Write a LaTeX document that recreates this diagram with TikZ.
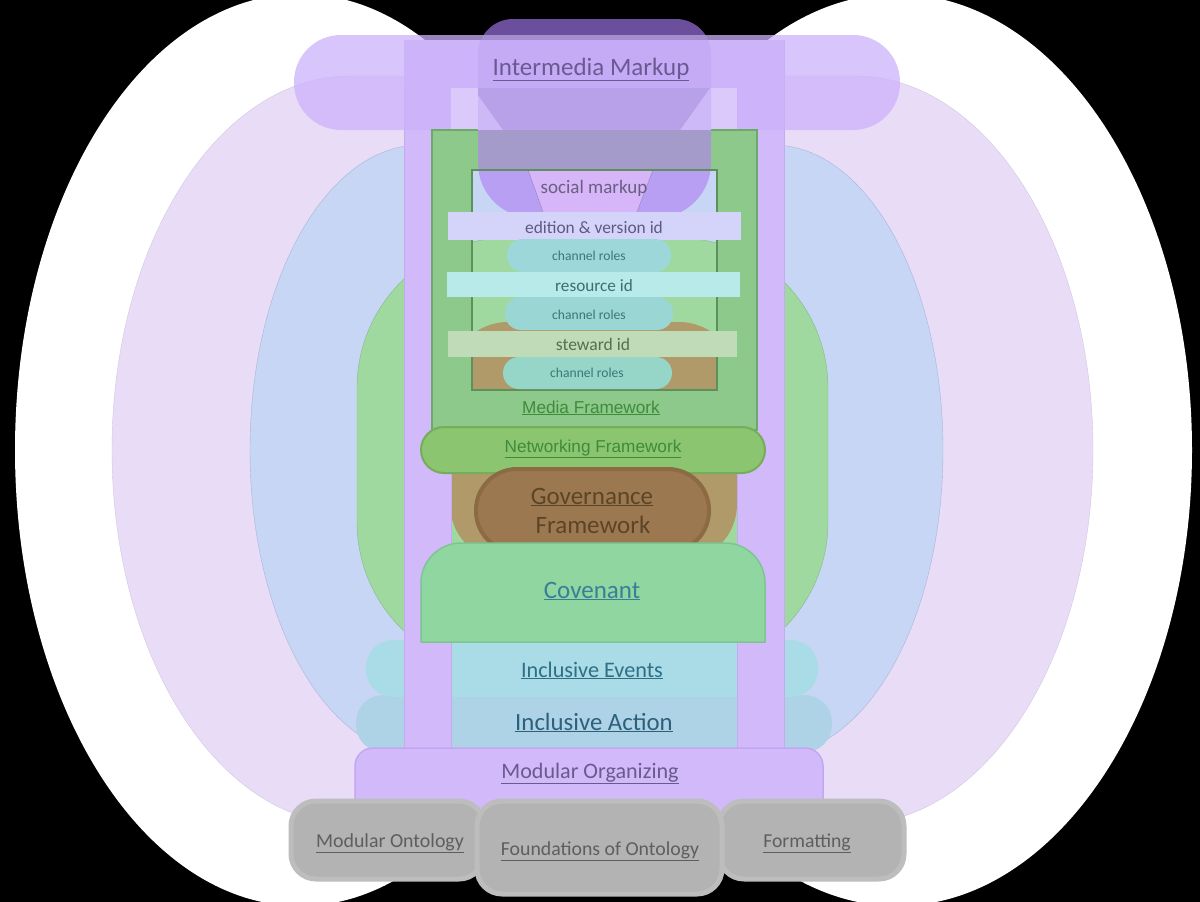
\documentclass[tikz,border=0pt]{standalone}
\usepackage{fontspec}
\setmainfont{Carlito}
\newfontfamily\arialfont{Liberation Sans}
\newcommand{\fsz}[1]{\fontsize{#1}{#1}\selectfont}

\definecolor{lavfill}{HTML}{E9DCF7}
\definecolor{lavline}{HTML}{D3C7E2}
\definecolor{bluefill}{HTML}{C8D6F6}
\definecolor{blueline}{HTML}{A8B6D6}
\definecolor{grnfill}{HTML}{9FD9A0}
\definecolor{grnline}{HTML}{84B888}
\definecolor{tanfill}{HTML}{B09A69}
\definecolor{evtfill}{HTML}{A9DCE6}
\definecolor{actfill}{HTML}{AED3E6}
\definecolor{purpfill}{HTML}{D2B9FA}
\definecolor{purpline}{HTML}{C4AAF0}
\definecolor{pillfill}{HTML}{CCB2FB}
\definecolor{purplight}{HTML}{DCC9FB}
\definecolor{mediafill}{HTML}{8CC98A}
\definecolor{medialine}{HTML}{6EA96B}
\definecolor{socdark}{HTML}{6B4F9D}
\definecolor{socpill}{HTML}{B89CF0}
\definecolor{soclight}{HTML}{CDB8F8}
\definecolor{socfunnel}{HTML}{B8A1E8}
\definecolor{socgreen}{HTML}{A49BCB}
\definecolor{socside}{HTML}{B99FF3}
\definecolor{soccentre}{HTML}{D6B5F9}
\definecolor{editfill}{HTML}{D4D4FA}
\definecolor{resfill}{HTML}{B7EAE8}
\definecolor{stewfill}{HTML}{BFDBB8}
\definecolor{chanA}{HTML}{9ED7D9}
\definecolor{chanB}{HTML}{9AD6D3}
\definecolor{chanC}{HTML}{95D6C9}
\definecolor{netfill}{HTML}{8BC56F}
\definecolor{netline}{HTML}{74AD5C}
\definecolor{govfill}{HTML}{9B7850}
\definecolor{govline}{HTML}{8C6A44}
\definecolor{covfill}{HTML}{8FD6A1}
\definecolor{covline}{HTML}{7DC593}
\definecolor{orgfill}{HTML}{D2B9FA}
\definecolor{orgline}{HTML}{C3A7F1}
\definecolor{greyfill}{HTML}{B3B3B3}
\definecolor{greyline}{HTML}{BDBDBD}

\definecolor{intermtxt}{HTML}{6B5A92}
\definecolor{socialtxt}{HTML}{686080}
\definecolor{edittxt}{HTML}{5C5A80}
\definecolor{chantxt}{HTML}{3F7576}
\definecolor{restxt}{HTML}{3D6E70}
\definecolor{stewtxt}{HTML}{55704E}
\definecolor{mediatxt}{HTML}{3F8B3C}
\definecolor{govtxt}{HTML}{5C4527}
\definecolor{covtxt}{HTML}{3A7E98}
\definecolor{evtxt}{HTML}{2F6F86}
\definecolor{acttxt}{HTML}{2E607B}
\definecolor{orgtxt}{HTML}{6B5A8E}
\definecolor{greytxt}{HTML}{5E5E5E}

\begin{document}
\begin{tikzpicture}[x=1pt,y=-1pt,
  lbl/.style={anchor=base,inner sep=0pt},
  chanpill/.style={rounded corners=16},
  greybox/.style={fill=greyfill,draw=greyline,line width=5,rounded corners=25}]

% background and outer rings
\fill[black] (0,0) rectangle (1200,902);
\useasboundingbox (0,0) rectangle (1200,902);
\fill[white] (300,450) ellipse [x radius=285,y radius=456];
\fill[white] (897,450) ellipse [x radius=295,y radius=456];
\path[fill=lavfill,draw=lavline] (350,76) -- (855,76) arc[start angle=-90,end angle=90,x radius=238,y radius=374]
  -- (350,824) arc[start angle=90,end angle=270,x radius=238,y radius=374] -- cycle;
\path[fill=bluefill,draw=blueline] (420,145) -- (773,145) arc[start angle=-90,end angle=90,x radius=170,y radius=305]
  -- (420,755) arc[start angle=90,end angle=270,x radius=170,y radius=305] -- cycle;
\path[fill=grnfill,draw=grnline,rounded corners=150] (357,238) rectangle (828,672);
\path[fill=tanfill,rounded corners=58] (450,322) rectangle (737,562);

% inclusive layers
\path[fill=actfill,rounded corners=27] (356,695) rectangle (832,752);
\path[fill=evtfill,rounded corners=27] (366,640) rectangle (818,697);

% purple frame and top pill
\path[fill=purpfill,draw=purpline] (404,40) rectangle (451,748);
\path[fill=purpfill,draw=purpline] (737,40) rectangle (784,748);
\path[fill=purpfill] (404,40) rectangle (784,88);
\path[fill=pillfill,fill opacity=.75,rounded corners=47] (294,35) rectangle (900,130);
\path[fill=purplight] (451,88) rectangle (737,130);

% media framework with its window
\path[fill=mediafill,draw=medialine,line width=1.2,even odd rule] (432,130) rectangle (757,430) (472,170) rectangle (717,390);

% social markup overlay
\begin{scope}
  \clip (478,54) arc[start angle=180,end angle=270,radius=35] -- (676,19) arc[start angle=270,end angle=360,radius=35]
    -- (711,163) arc[start angle=0,end angle=90,radius=55] -- (533,218) arc[start angle=90,end angle=180,radius=55] -- cycle;
  \fill[socdark] (470,0) rectangle (720,35);
  \fill[socpill,opacity=.35] (470,35) rectangle (720,88);
  \fill[soclight] (470,88) rectangle (720,130);
  \fill[socfunnel] (473,88) -- (710,88) -- (680,130) -- (503,130) -- cycle;
  \fill[socgreen] (470,130) rectangle (720,170);
  \fill[socside] (470,170) rectangle (720,232);
  \fill[soccentre] (528,170) -- (653,170) -- (637,212) -- (543,212) -- cycle;
  \draw[socfunnel!80!black,line width=.4] (528,170) -- (543,212) (653,170) -- (637,212);
\end{scope}
\draw[medialine!85!black,line width=1.2] (472,170) rectangle (717,390);

% identifiers and channel roles
\path[fill=editfill] (448,212) rectangle (741,240);
\path[chanpill,fill=chanA] (507,239) rectangle (671,272);
\path[fill=resfill] (447,272) rectangle (740,297);
\path[chanpill,fill=chanB] (505,297) rectangle (673,330);
\path[fill=stewfill] (448,331) rectangle (737,357);
\path[chanpill,fill=chanC] (503,357) rectangle (672,389);

% networking, governance, covenant
\path[fill=netfill,draw=netline,line width=2,rounded corners=23] (421,427) rectangle (765,473);
\path[fill=govfill,draw=govline,line width=4,rounded corners=41] (476,469) rectangle (709,552);
\path[fill=covfill,draw=covline,line width=1.5] (421,642) -- (421,583) arc[start angle=180,end angle=270,radius=40]
  -- (725,543) arc[start angle=270,end angle=360,radius=40] -- (765,642) -- cycle;

% modular organizing and ontology base
\path[fill=orgfill,draw=orgline,line width=1.5] (355,812) -- (355,766) arc[start angle=180,end angle=270,radius=18]
  -- (805,748) arc[start angle=270,end angle=360,radius=18] -- (823,812) -- cycle;
\path[greybox] (291,801) rectangle (484,879);
\path[greybox] (719,801) rectangle (904,879);
\path[greybox] (477,801) rectangle (722,894);

% labels
\node[lbl,font=\fsz{25},text=intermtxt] (interm) at (591,75) {\underline{Intermedia Markup}};
\node[lbl,font=\fsz{19},text=socialtxt] (social) at (594,193) {social markup};
\node[lbl,font=\fsz{17.4},text=edittxt] (edition) at (594,233) {edition \& version id};
\node[lbl,font=\fsz{13.6},text=chantxt] (chanone) at (589,260) {channel roles};
\node[lbl,font=\fsz{17.2},text=restxt] (resource) at (594,291) {resource id};
\node[lbl,font=\fsz{13.6},text=chantxt] (chantwo) at (589,319) {channel roles};
\node[lbl,font=\fsz{17.6},text=stewtxt] (steward) at (593,350) {steward id};
\node[lbl,font=\fsz{13.6},text=chantxt] (chanthree) at (587,377) {channel roles};
\node[lbl,font=\arialfont\fsz{17.2},text=mediatxt] (media) at (591,413) {\underline{Media Framework}};
\node[lbl,font=\arialfont\fsz{17.2},text=mediatxt] (networking) at (593,452) {\underline{Networking Framework}};
\node[lbl,font=\fsz{25},text=govtxt] (govone) at (592,504) {\underline{Governance}};
\node[lbl,font=\fsz{25},text=govtxt] (govtwo) at (593,533) {Framework};
\node[lbl,font=\fsz{25},text=covtxt] (covenant) at (592,598) {\underline{Covenant}};
\node[lbl,font=\fsz{22.2},text=evtxt] (events) at (592,677) {\underline{Inclusive Events}};
\node[lbl,font=\fsz{24.8},text=acttxt] (action) at (594,730) {\underline{Inclusive Action}};
\node[lbl,font=\fsz{22.1},text=orgtxt] (organizing) at (590,778) {\underline{Modular Organizing}};
\node[lbl,font=\fsz{19.9},text=greytxt] (modont) at (390,847) {\underline{Modular Ontology}};
\node[lbl,font=\fsz{19.8},text=greytxt] (foundations) at (600,855) {\underline{Foundations of Ontology}};
\node[lbl,font=\fsz{19.7},text=greytxt] (formatting) at (807,847) {\underline{Formatting}};
\end{tikzpicture}
\end{document}
